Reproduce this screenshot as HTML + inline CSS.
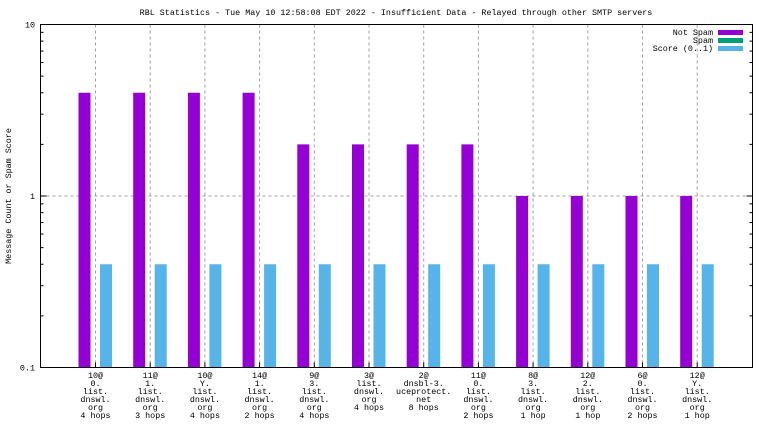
<!DOCTYPE html>
<html><head><meta charset="utf-8"><style>
body{margin:0;background:#fff}
svg{display:block;font-family:"Liberation Mono",monospace;font-size:8.4px}
</style></head><body>
<svg width="768" height="432" id="c">
<text x="396" y="15" text-anchor="middle">RBL Statistics - Tue May 10 12:58:08 EDT 2022 - Insufficient Data - Relayed through other SMTP servers</text>
<text transform="translate(11,196) rotate(-90)" text-anchor="middle" font-size="8.4">Message Count or Spam Score</text>
<g id="grid"></g><g id="bars"></g>
<rect x="40.5" y="24.5" width="712" height="343" fill="none" stroke="#000"/>
<g id="axes"></g>
<g>
<text x="713" y="35" text-anchor="end">Not Spam</text>
<rect x="718" y="30" width="25" height="5" fill="#9400d3"/>
<text x="713" y="43" text-anchor="end">Spam</text>
<rect x="718" y="38" width="25" height="5" fill="#009e73"/>
<text x="713" y="51" text-anchor="end">Score (0..1)</text>
<rect x="718" y="46" width="25" height="5" fill="#56b4e9"/>
</g>
</svg>
<script>
const categories=[["10@","0.","list.","dnswl.","org","4 hops"],["11@","1.","list.","dnswl.","org","3 hops"],["10@","Y.","list.","dnswl.","org","4 hops"],["14@","1.","list.","dnswl.","org","2 hops"],["9@","3.","list.","dnswl.","org","4 hops"],["3@","list.","dnswl.","org","4 hops"],["2@","dnsbl-3.","uceprotect.","net","8 hops"],["11@","0.","list.","dnswl.","org","2 hops"],["8@","3.","list.","dnswl.","org","1 hop"],["12@","2.","list.","dnswl.","org","1 hop"],["6@","0.","list.","dnswl.","org","2 hops"],["12@","Y.","list.","dnswl.","org","1 hop"]];
const notSpam=[4,4,4,4,2,2,2,2,1,1,1,1];
const spam=[0,0,0,0,0,0,0,0,0,0,0,0];
const score=[0.4,0.4,0.4,0.4,0.4,0.4,0.4,0.4,0.4,0.4,0.4,0.4];
const yTicks=[0.1,1,10];
const yTickLabels=["0.1","1","10"];
const NS="http://www.w3.org/2000/svg";
const plotTop=24.5,plotBot=367.5,plotLeft=40.5,plotRight=752.5;
function yS(v){return plotBot-(Math.log10(v)+1)/2*(plotBot-plotTop);}
function xS(i){return 95.5+i*54.7;}
function mk(t,a,p){const e=document.createElementNS(NS,t);for(const k in a)e.setAttribute(k,a[k]);p.appendChild(e);return e;}
const grid=document.getElementById('grid'),bars=document.getElementById('bars'),axes=document.getElementById('axes');
categories.forEach((c,i)=>{
 const g=mk('line',{x1:xS(i),x2:xS(i),y1:plotTop,y2:plotBot,stroke:'#a0a0a0','stroke-dasharray':'3,3'},grid);
 
 
 const t=mk('line',{x1:xS(i),x2:xS(i),y1:plotBot,y2:plotBot-5,stroke:'#000'},axes);
 
 
 const tx=mk('text',{x:xS(i),y:378,'text-anchor':'middle'},axes);
 
 
 c.forEach((l,j)=>{const s=mk('tspan',{x:xS(i),y:378+j*8},tx);s.textContent=l;});
 if(notSpam[i]>0.1){const r=mk('rect',{x:xS(i)-17,y:yS(notSpam[i]),width:12,height:plotBot-yS(notSpam[i]),fill:'#9400d3'},bars);
 
 }
 if(spam[i]>0.1){const r=mk('rect',{x:xS(i)-6,y:yS(spam[i]),width:12,height:plotBot-yS(spam[i]),fill:'#009e73'},bars);
 
 }
 if(score[i]>0.1){const r=mk('rect',{x:xS(i)+4.5,y:yS(score[i]),width:12,height:plotBot-yS(score[i]),fill:'#56b4e9'},bars);
 
 }
});
yTicks.forEach((v,k)=>{
 const yy=yS(v);
 if(k===1){const g=mk('line',{x1:plotLeft,x2:plotRight,y1:yy,y2:yy,stroke:'#a0a0a0','stroke-dasharray':'3,3'},grid);
 
 }
 const t=mk('text',{x:35,y:yy+3,'text-anchor':'end'},axes);
 
 
 t.textContent=yTickLabels[k];
 mk('line',{x1:plotLeft,x2:plotLeft+6,y1:yy,y2:yy,stroke:'#000'},axes);
 mk('line',{x1:plotRight,x2:plotRight-6,y1:yy,y2:yy,stroke:'#000'},axes);
 if(k<2)for(let m=2;m<10;m++){const ym=yS(v*m);
  mk('line',{x1:plotLeft,x2:plotLeft+3,y1:ym,y2:ym,stroke:'#000'},axes);
  mk('line',{x1:plotRight,x2:plotRight-3,y1:ym,y2:ym,stroke:'#000'},axes);}
});
</script>
</body></html>
